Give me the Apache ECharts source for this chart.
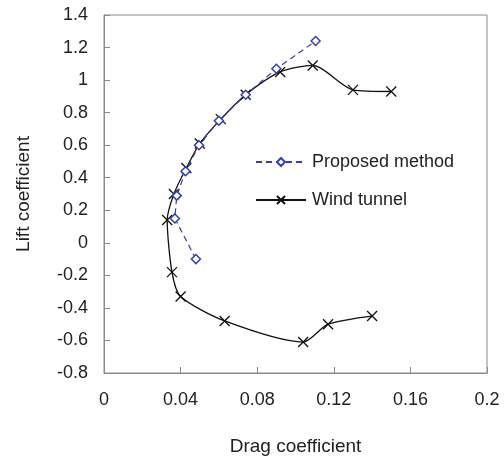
<!DOCTYPE html>
<html>
<head>
<meta charset="utf-8">
<script src="https://cdn.jsdelivr.net/npm/echarts@6/dist/echarts.min.js"></script>
<style>
  html, body { margin: 0; padding: 0; background: #fff; }
  #chart { width: 504px; height: 461px; }
</style>
</head>
<body>
<div id="chart"></div>
<script>
// values
const windDrag = [0.140, 0.117, 0.104, 0.063, 0.040, 0.0355, 0.033, 0.0365, 0.043, 0.050, 0.061, 0.074, 0.092, 0.109, 0.130, 0.150];
const windLift = [-0.45, -0.50, -0.61, -0.48, -0.33, -0.18, 0.14, 0.30, 0.46, 0.61, 0.76, 0.91, 1.05, 1.09, 0.94, 0.93];

const propDrag = [0.048, 0.037, 0.038, 0.0426, 0.0496, 0.060, 0.074, 0.090, 0.1105];
const propLift = [-0.10, 0.15, 0.29, 0.44, 0.60, 0.75, 0.91, 1.07, 1.24];

const pairs = (xs, ys) => xs.map((x, i) => [x, ys[i]]);

const font = 'Liberation Sans, Arial, sans-serif';
const axisCol = '#8a8a8a';
const textCol = '#222';

const chart = echarts.init(document.getElementById('chart'));

const option = {
  animation: false,
  grid: {
    left: 104, right: 17, top: 15, bottom: 88,
    show: true, borderColor: axisCol, borderWidth: 1
  },
  legend: {
    orient: 'vertical',
    left: 250,
    top: 148,
    itemWidth: 50,
    itemHeight: 10,
    itemGap: 20,
    textStyle: { fontFamily: font, fontSize: 18, color: textCol, padding: [0, 0, 0, 1] },
    data: ['Proposed method', 'Wind tunnel']
  },
  xAxis: {
    type: 'value',
    min: 0, max: 0.2, interval: 0.04,
    name: 'Drag coefficient',
    nameLocation: 'middle',
    nameGap: 64,
    nameTextStyle: { fontFamily: font, fontSize: 19, color: textCol },
    axisLine: { onZero: false, lineStyle: { color: axisCol } },
    axisTick: { inside: true, length: 6, lineStyle: { color: axisCol } },
    axisLabel: { margin: 18, fontFamily: font, fontSize: 18, color: textCol },
    splitLine: { show: false }
  },
  yAxis: {
    type: 'value',
    min: -0.8, max: 1.4, interval: 0.2,
    name: 'Lift coefficient',
    nameLocation: 'middle',
    nameGap: 71,
    nameTextStyle: { fontFamily: font, fontSize: 19, color: textCol },
    axisLine: { show: true, onZero: false, lineStyle: { color: axisCol } },
    axisTick: { show: true, inside: true, length: 6, lineStyle: { color: axisCol } },
    axisLabel: { margin: 16, fontFamily: font, fontSize: 18, color: textCol },
    splitLine: { show: false }
  },
  series: [
    {
      name: 'Proposed method',
      type: 'line',
      data: pairs(propDrag, propLift),
      symbol: 'diamond',
      symbolSize: 9,
      showAllSymbol: true,
      lineStyle: { color: '#3a3fa6', width: 1.2, type: [6, 4] },
      itemStyle: { color: '#fff', borderColor: '#3a3fa6', borderWidth: 1.5 },
      z: 3
    },
    {
      name: 'Wind tunnel',
      type: 'line',
      data: pairs(windDrag, windLift),
      smooth: 0.25,
      symbol: 'path://M0,0L10,10M10,0L0,10',
      symbolSize: 10,
      showAllSymbol: true,
      lineStyle: { color: '#111', width: 1.3 },
      itemStyle: { color: 'none', borderColor: '#111', borderWidth: 1.3 },
      z: 2
    }
  ]
};

chart.setOption(option);
</script>
</body>
</html>
